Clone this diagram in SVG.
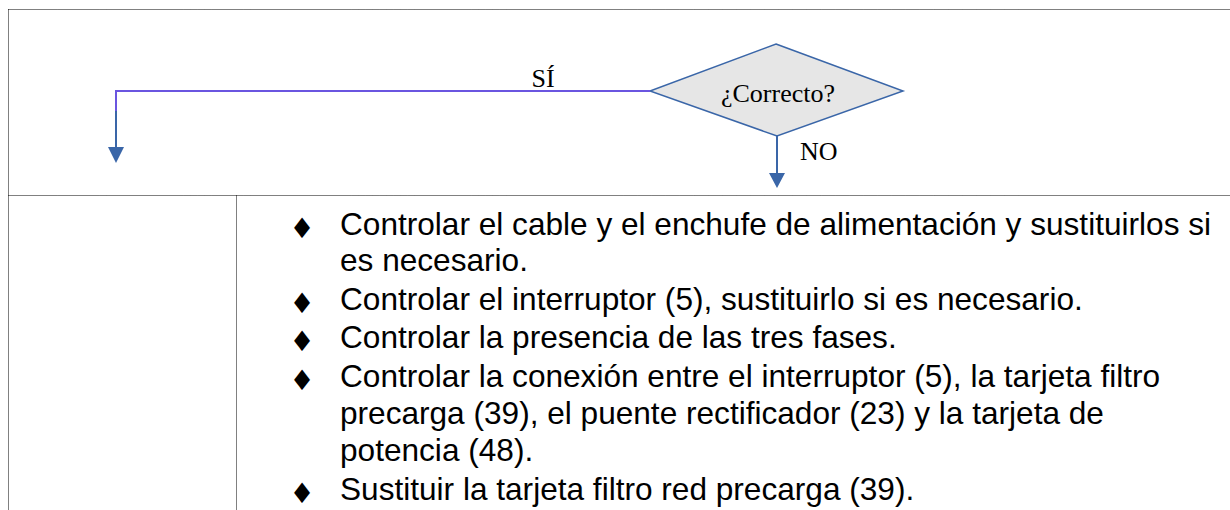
<svg xmlns="http://www.w3.org/2000/svg" width="1230" height="510" viewBox="0 0 1230 510">
<style>
.grid{stroke:#000;stroke-width:1;stroke-dasharray:1 1;fill:none}
.t{font-family:"Liberation Sans",Arial,sans-serif;font-size:31.6px;fill:#000}
.b{font-family:"DejaVu Sans",sans-serif;font-size:28px;fill:#000}
.s{font-family:"Liberation Serif","Times New Roman",serif;font-size:26px;fill:#000}
.blue{stroke:#3a66a8;stroke-width:2;fill:none}
.purple{stroke:#6a55e0;stroke-width:2;fill:none}
</style>
<g id="table">
<path class="grid" d="M8.5,9.5 H1230 M8.5,9.5 V510 M8.5,195.5 H1230 M236.5,195.5 V510"/>
</g>
<g id="decision">
<polygon points="776,44 903,91 777,136 650,91" fill="#e6e6e6" stroke="#3a66a8" stroke-width="1.5"/>
<text class="s" x="778" y="102" text-anchor="middle">¿Correcto?</text>
</g>
<g id="connectors">
<path class="purple" d="M650,91 H116 V111"/>
<path class="blue" d="M116,111 V147"/>
<path d="M108,147 L124,147 L116,163 Z" fill="#3a66a8"/>
<path class="blue" d="M777,136 V173"/>
<path d="M769,173 L785,173 L777,188 Z" fill="#3a66a8"/>
<text class="s" x="543" y="87" text-anchor="middle">SÍ</text>
<text class="s" x="800" y="160">NO</text>
</g>
<g id="list">
<text class="b" x="302" y="238" text-anchor="middle">♦</text>
<text class="t" x="340" y="235">Controlar el cable y el enchufe de alimentación y sustituirlos si</text>
<text class="t" x="340" y="271">es necesario.</text>
<text class="b" x="302" y="313" text-anchor="middle">♦</text>
<text class="t" x="340" y="310">Controlar el interruptor (5), sustituirlo si es necesario.</text>
<text class="b" x="302" y="351" text-anchor="middle">♦</text>
<text class="t" x="340" y="348">Controlar la presencia de las tres fases.</text>
<text class="b" x="302" y="390" text-anchor="middle">♦</text>
<text class="t" x="340" y="387">Controlar la conexión entre el interruptor (5), la tarjeta filtro</text>
<text class="t" x="340" y="424">precarga (39), el puente rectificador (23) y la tarjeta de</text>
<text class="t" x="340" y="461">potencia (48).</text>
<text class="b" x="302" y="503" text-anchor="middle">♦</text>
<text class="t" x="340" y="500">Sustituir la tarjeta filtro red precarga (39).</text>
</g>
</svg>
